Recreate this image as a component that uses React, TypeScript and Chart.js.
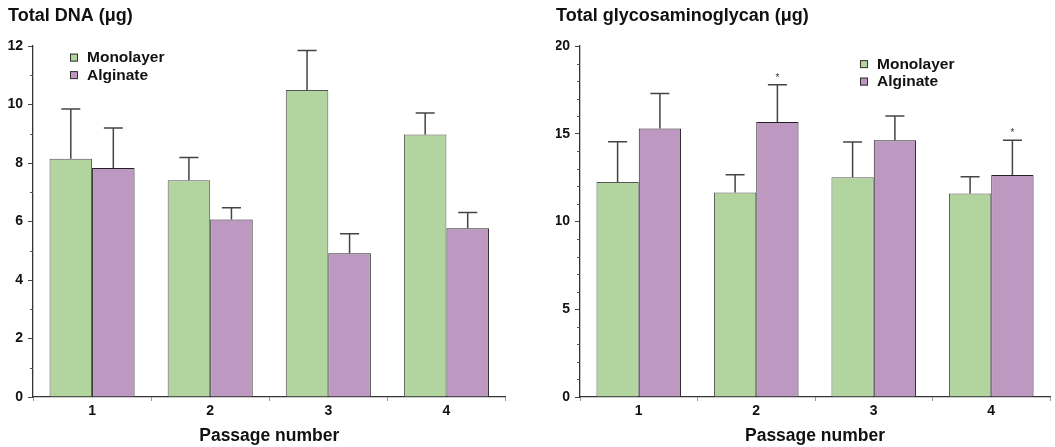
import React, { useEffect, useRef } from 'react';
import { Chart, registerables } from 'chart.js';

Chart.register(...registerables);

// ---- data ----
const passages = ['1', '2', '3', '4'];
const seriesNames = ['Monolayer', 'Alginate'];

const dnaMonolayer = [8.15, 7.41, 10.5, 8.98];
const dnaMonolayerSD = [1.7, 0.78, 1.35, 0.73];
const dnaAlginate = [7.83, 6.07, 4.92, 5.77];
const dnaAlginateSD = [1.37, 0.4, 0.66, 0.54];
const dnaMonolayerSig = [false, false, false, false];
const dnaAlginateSig = [false, false, false, false];

const gagMonolayer = [12.25, 11.65, 12.53, 11.6];
const gagMonolayerSD = [2.3, 1.02, 2.0, 0.95];
const gagAlginate = [15.3, 15.67, 14.63, 12.65];
const gagAlginateSD = [2.0, 2.13, 1.39, 1.98];
const gagMonolayerSig = [false, false, false, false];
const gagAlginateSig = [false, true, false, true];

const dnaAxis = { min: 0, max: 12, major: 2, minor: 1 };
const gagAxis = { min: 0, max: 20, major: 5, minor: 1 };

const dnaTitle = 'Total DNA (\u03bcg)';
const gagTitle = 'Total glycosaminoglycan (\u03bcg)';
const xTitle = 'Passage number';

// ---- styles ----
const FONT = '"Liberation Sans", Arial, Helvetica, sans-serif';
const GREEN = '#b2d49e';
const PURPLE = '#bd98c1';
const TEXT = '#111111';

function errorBarPlugin(sds: number[][], sig: boolean[][]) {
  return {
    id: 'errorBars',
    afterDatasetsDraw(chart: any) {
      const ctx = chart.ctx;
      const yScale = chart.scales.y;
      ctx.save();
      chart.data.datasets.forEach((ds: any, di: number) => {
        const meta = chart.getDatasetMeta(di);
        meta.data.forEach((bar: any, i: number) => {
          const v = ds.data[i] as number;
          const topPx = yScale.getPixelForValue(v + sds[di][i]);
          const x = bar.x;
          const y = bar.y;
          ctx.strokeStyle = '#444';
          ctx.lineWidth = 1.5;
          ctx.beginPath();
          ctx.moveTo(x, y);
          ctx.lineTo(x, topPx);
          ctx.moveTo(x - 9.5, topPx);
          ctx.lineTo(x + 9.5, topPx);
          ctx.stroke();
          if (sig[di] && sig[di][i]) {
            ctx.fillStyle = '#333';
            ctx.font = '10px ' + FONT;
            ctx.textAlign = 'center';
            ctx.textBaseline = 'alphabetic';
            ctx.fillText('*', x, topPx - 4);
          }
        });
      });
      ctx.restore();
    },
  };
}

function minorTickPlugin(min: number, max: number, major: number, minor: number) {
  return {
    id: 'minorTicks',
    afterDraw(chart: any) {
      const ctx = chart.ctx;
      const y = chart.scales.y;
      const ax = chart.chartArea.left;
      ctx.save();
      ctx.strokeStyle = '#555';
      ctx.lineWidth = 1;
      for (let v = min; v <= max + 1e-9; v += minor) {
        if (Math.abs(v / major - Math.round(v / major)) < 1e-6) continue;
        const py = Math.round(y.getPixelForValue(v)) + 0.5;
        ctx.beginPath();
        ctx.moveTo(ax - 3, py);
        ctx.lineTo(ax, py);
        ctx.stroke();
      }
      ctx.restore();
    },
  };
}

function insideLegendPlugin(dx: number, dy: number) {
  return {
    id: 'insideLegend',
    afterDraw(chart: any) {
      const ctx = chart.ctx;
      const { left, top } = chart.chartArea;
      ctx.save();
      chart.data.datasets.forEach((ds: any, i: number) => {
        const cx = left + dx;
        const cy = top + dy + i * 17.5;
        ctx.fillStyle = ds.backgroundColor;
        ctx.fillRect(cx - 4, cy - 4, 8, 8);
        ctx.strokeStyle = '#333';
        ctx.lineWidth = 1;
        ctx.strokeRect(cx - 4 + 0.5, cy - 4 + 0.5, 7, 7);
        ctx.fillStyle = TEXT;
        ctx.font = 'bold 15.5px ' + FONT;
        ctx.textAlign = 'left';
        ctx.textBaseline = 'middle';
        ctx.fillText(ds.label, cx + 13, cy + 0.5);
      });
      ctx.restore();
    },
  };
}

function buildConfig(
  title: string,
  mono: number[],
  alg: number[],
  sds: number[][],
  sig: boolean[][],
  axis: { min: number; max: number; major: number; minor: number },
  yWidth: number,
  padLeft: number,
  padRight: number,
  legendDx: number,
  legendDy: number
): any {
  return {
    type: 'bar',
    data: {
      labels: passages,
      datasets: [
        {
          label: seriesNames[0],
          data: mono,
          backgroundColor: GREEN,
          borderColor: '#555',
          borderWidth: 1,
          barPercentage: 1,
          categoryPercentage: 0.72,
        },
        {
          label: seriesNames[1],
          data: alg,
          backgroundColor: PURPLE,
          borderColor: '#222',
          borderWidth: 1,
          barPercentage: 1,
          categoryPercentage: 0.72,
        },
      ],
    },
    options: {
      responsive: false,
      animation: false,
      devicePixelRatio: 1,
      layout: { padding: { left: padLeft, right: padRight, top: 0, bottom: 0 } },
      plugins: {
        legend: { display: false },
        tooltip: { enabled: false },
        title: {
          display: true,
          text: title,
          align: 'start',
          color: TEXT,
          font: { family: FONT, size: 18, weight: 'bold' },
          padding: { top: 5.5, bottom: 19 },
        },
      },
      scales: {
        x: {
          grid: {
            display: true,
            drawOnChartArea: false,
            drawTicks: true,
            tickLength: 4,
            tickColor: '#999',
            offset: true,
          },
          border: { display: true, color: '#333', width: 1.3 },
          ticks: {
            color: TEXT,
            padding: 2,
            font: { family: FONT, size: 14, weight: 'bold' },
          },
          title: {
            display: true,
            text: xTitle,
            color: TEXT,
            font: { family: FONT, size: 17.5, weight: 'bold' },
            padding: { top: 6, bottom: 0 },
          },
          afterFit: (s: any) => {
            s.height = 50;
          },
        },
        y: {
          min: axis.min,
          max: axis.max,
          grid: {
            display: true,
            drawOnChartArea: false,
            drawTicks: true,
            tickLength: 5,
            tickColor: '#444',
          },
          border: { display: true, color: '#333', width: 1.3 },
          ticks: {
            stepSize: axis.major,
            color: TEXT,
            padding: 5,
            font: { family: FONT, size: 14, weight: 'bold' },
          },
          afterFit: (s: any) => {
            s.width = yWidth;
          },
        },
      },
    },
    plugins: [
      errorBarPlugin(sds, sig),
      minorTickPlugin(axis.min, axis.max, axis.major, axis.minor),
      insideLegendPlugin(legendDx, legendDy),
    ],
  };
}

function ChartCanvas({ config, left, width, height }: { config: any; left: number; width: number; height: number }) {
  const ref = useRef<HTMLCanvasElement | null>(null);
  useEffect(() => {
    if (!ref.current) return;
    const chart = new Chart(ref.current, config);
    return () => chart.destroy();
  }, [config]);
  return (
    <canvas
      ref={ref}
      width={width}
      height={height}
      style={{ position: 'absolute', left, top: 0, width, height }}
    />
  );
}

const leftConfig = buildConfig(
  dnaTitle,
  dnaMonolayer,
  dnaAlginate,
  [dnaMonolayerSD, dnaAlginateSD],
  [dnaMonolayerSig, dnaAlginateSig],
  dnaAxis,
  25,
  8,
  14.5,
  41,
  11.5
);

const rightConfig = buildConfig(
  gagTitle,
  gagMonolayer,
  gagAlginate,
  [gagMonolayerSD, gagAlginateSD],
  [gagMonolayerSig, gagAlginateSig],
  gagAxis,
  24,
  8,
  5,
  284,
  18
);

export default function App() {
  return (
    <div style={{ position: 'fixed', left: 0, top: 0, width: 1055, height: 447, background: '#fff' }}>
      <ChartCanvas config={leftConfig} left={0} width={520} height={447} />
      <ChartCanvas config={rightConfig} left={548} width={507} height={447} />
    </div>
  );
}
